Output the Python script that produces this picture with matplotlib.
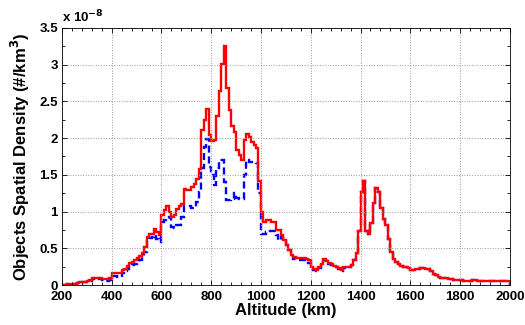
import numpy as np
import matplotlib
matplotlib.use("Agg")
import matplotlib.pyplot as plt
from matplotlib.ticker import MultipleLocator

plt.rcParams['font.family'] = ['Liberation Sans', 'DejaVu Sans']
plt.rcParams['font.weight'] = 'bold'

# altitude bins (km), 10 km wide
edges = np.arange(200, 2001, 10)

# spatial density, units of 1e-8 objects/km^3
red = [0.00, 0.005, 0.01, 0.01, 0.02, 0.02, 0.03, 0.035, 0.04, 0.04,
       0.06, 0.07, 0.09, 0.10, 0.10, 0.10, 0.08, 0.08, 0.08, 0.10,
       0.16, 0.17, 0.17, 0.16, 0.20, 0.22, 0.26, 0.30, 0.32, 0.34,
       0.37, 0.40, 0.44, 0.52, 0.66, 0.69, 0.70, 0.76, 0.72, 0.68,
       0.95, 1.02, 1.07, 1.00, 0.92, 0.96, 1.03, 1.08, 1.10, 1.31,
       1.29, 1.30, 1.34, 1.37, 1.44, 1.58, 2.11, 2.25, 2.40, 2.04,
       1.96, 1.97, 2.30, 2.64, 3.01, 3.25, 2.68, 2.38, 2.16, 2.09,
       1.84, 1.77, 1.70, 1.98, 2.06, 2.02, 1.95, 1.91, 1.87, 1.41,
       1.00, 0.86, 0.88, 0.88, 0.86, 0.86, 0.75, 0.75, 0.68, 0.61,
       0.54, 0.48, 0.41, 0.38, 0.37, 0.37, 0.37, 0.37, 0.36, 0.34,
       0.25, 0.22, 0.21, 0.25, 0.29, 0.36, 0.33, 0.30, 0.28, 0.26,
       0.25, 0.23, 0.21, 0.24, 0.24, 0.25, 0.27, 0.34, 0.43, 0.73,
       1.27, 1.42, 0.74, 0.69, 0.84, 1.12, 1.32, 1.27, 1.05, 0.90,
       0.82, 0.63, 0.45, 0.36, 0.32, 0.28, 0.26, 0.25, 0.24, 0.23,
       0.21, 0.21, 0.22, 0.22, 0.23, 0.23, 0.22, 0.22, 0.19, 0.15,
       0.13, 0.11, 0.10, 0.10, 0.09, 0.08, 0.08, 0.07, 0.07, 0.07,
       0.07, 0.06, 0.06, 0.06, 0.06, 0.07, 0.07, 0.06, 0.06, 0.06,
       0.06, 0.06, 0.05, 0.05, 0.05, 0.05, 0.05, 0.05, 0.05, 0.05]

blue = [0.00, 0.005, 0.01, 0.01, 0.02, 0.02, 0.03, 0.03, 0.04, 0.04,
        0.05, 0.06, 0.08, 0.09, 0.09, 0.08, 0.07, 0.06, 0.06, 0.07,
        0.12, 0.12, 0.11, 0.11, 0.17, 0.19, 0.22, 0.24, 0.27, 0.29,
        0.31, 0.34, 0.38, 0.45, 0.60, 0.64, 0.66, 0.68, 0.63, 0.59,
        0.86, 0.88, 0.90, 0.93, 0.79, 0.77, 0.82, 0.82, 0.92, 1.07,
        1.08, 1.08, 1.05, 1.05, 1.13, 1.27, 1.59, 1.88, 1.99, 1.61,
        1.50, 1.36, 1.60, 1.70, 1.70, 1.40, 1.16, 1.16, 1.17, 1.25,
        1.18, 1.17, 1.17, 1.50, 1.70, 1.68, 1.68, 1.68, 1.66, 1.25,
        0.70, 0.70, 0.72, 0.73, 0.73, 0.73, 0.68, 0.61, 0.66, 0.60,
        0.55, 0.48, 0.41, 0.36, 0.34, 0.34, 0.34, 0.34, 0.34, 0.30,
        0.24, 0.20, 0.19, 0.23, 0.27, 0.34, 0.32, 0.29, 0.27, 0.25,
        0.24, 0.22, 0.19, 0.23, 0.23, 0.25, 0.27, 0.34, 0.43, 0.73,
        1.27, 1.42, 0.74, 0.69, 0.84, 1.12, 1.32, 1.27, 1.05, 0.90,
        0.82, 0.63, 0.45, 0.36, 0.32, 0.28, 0.26, 0.25, 0.24, 0.23,
        0.21, 0.21, 0.22, 0.22, 0.23, 0.23, 0.22, 0.22, 0.19, 0.15,
        0.13, 0.11, 0.10, 0.10, 0.09, 0.08, 0.08, 0.07, 0.07, 0.07,
        0.07, 0.06, 0.06, 0.06, 0.06, 0.07, 0.07, 0.06, 0.06, 0.06,
        0.06, 0.06, 0.05, 0.05, 0.05, 0.05, 0.05, 0.05, 0.05, 0.05]

xticks = [200, 400, 600, 800, 1000, 1200, 1400, 1600, 1800, 2000]
yticks = [0, 0.5, 1, 1.5, 2, 2.5, 3, 3.5]
ytick_labels = ['0', '0.5', '1', '1.5', '2', '2.5', '3', '3.5']

fig = plt.figure(figsize=(5.25, 3.25), dpi=100)
ax = fig.add_axes([0.118, 0.123, 0.853, 0.791])

ax.stairs(blue, edges, color='#0000ff', lw=1.7, ls=(0, (3, 1.6)))
ax.stairs(red, edges, color='#ff0000', lw=1.7)

ax.set_xlim(200, 2000)
ax.set_ylim(0, 3.5)
ax.set_xticks(xticks)
ax.set_yticks(yticks)
ax.set_yticklabels(ytick_labels)
ax.xaxis.set_minor_locator(MultipleLocator(40))
ax.yaxis.set_minor_locator(MultipleLocator(0.25))
ax.tick_params(which='both', direction='in', top=True, right=True, labelsize=9.5)
ax.tick_params(axis='x', pad=4)
ax.tick_params(axis='y', pad=3)
ax.tick_params(which='major', length=3.5, width=0.6)
ax.tick_params(which='minor', length=2, width=0.6)
for s in ax.spines.values():
    s.set_linewidth(0.6)

ax.grid(True, which='major', color='#999999', ls=':', lw=0.7)

ax.set_xlabel('Altitude (km)', fontsize=12, fontweight='bold', labelpad=0)
ax.set_ylabel('Objects Spatial Density (#/km$^{\\mathbf{3}}$)', fontsize=12,
              fontweight='bold', labelpad=5)
ax.text(0.0, 1.01, 'x 10$^{\\mathbf{-8}}$', transform=ax.transAxes, fontsize=9.5,
        fontweight='bold', ha='left', va='bottom')

fig.savefig('out.png', dpi=100)
